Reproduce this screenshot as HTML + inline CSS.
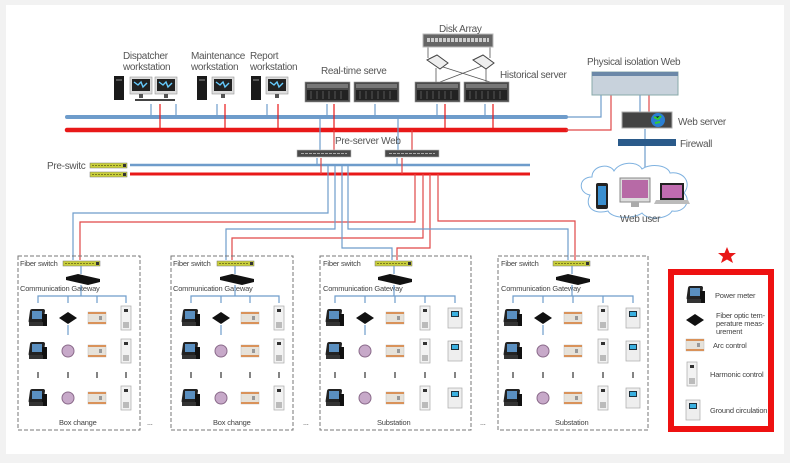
<!DOCTYPE html>
<html><head><meta charset="utf-8"><style>
html,body{margin:0;padding:0;background:#f2f2f2;}
svg{display:block;font-family:"Liberation Sans",sans-serif;}
</style></head><body>
<svg width="790" height="463" viewBox="0 0 790 463" xmlns="http://www.w3.org/2000/svg">
<defs>
<g id="pm"><rect x="-9" y="-9" width="15" height="14" rx="2" fill="#222" transform="skewX(-8)"/><rect x="-6" y="-7" width="10" height="8" fill="#5a8fc0"/><rect x="4" y="-4" width="5" height="12" fill="#111"/><rect x="-9" y="4" width="14" height="4" fill="#333"/></g>
<g id="fo"><polygon points="-9,0 0,-6 9,0 0,6" fill="#111"/></g>
<g id="arc"><rect x="-9" y="-6" width="18" height="12" fill="#e6e2da" stroke="#bbb" stroke-width="0.5"/><rect x="-9" y="-6" width="18" height="2" fill="#d9925a"/><rect x="-9" y="4" width="18" height="2" fill="#d9925a"/><rect x="2" y="-2" width="3" height="4" fill="#999"/></g>
<g id="hc"><rect x="-5" y="-12" width="10" height="24" fill="#f2f2f2" stroke="#aaa" stroke-width="0.7"/><rect x="-2" y="-9" width="4" height="3" fill="#333"/><rect x="-3" y="4" width="6" height="6" fill="#bbb"/></g>
<g id="gc"><rect x="-7" y="-10" width="14" height="20" fill="#eee" stroke="#aaa" stroke-width="0.7"/><rect x="-4" y="-7" width="8" height="6" fill="#1c2f3a"/><rect x="-3" y="-6" width="6" height="4" fill="#3ab0e0"/></g>
<g id="mon"><rect x="0" y="0" width="22" height="17" fill="#ddd" stroke="#999" stroke-width="0.6"/><rect x="2" y="2" width="18" height="12" fill="#222"/><path d="M4 5 l4 3 l3 -3 l2 5 l4 -4" stroke="#6cf" fill="none" stroke-width="1.4"/><rect x="9" y="17" width="4" height="4" fill="#555"/></g>
<g id="tower"><rect x="0" y="0" width="10" height="24" fill="#1a1a1a"/><rect x="2" y="3" width="6" height="2" fill="#555"/></g>
<g id="srv"><rect x="0" y="0" width="45" height="20" fill="#4a4a4a" stroke="#999" stroke-width="0.6"/><rect x="2" y="2" width="41" height="4" fill="#777"/><rect x="2" y="8" width="41" height="10" fill="#222"/><path d="M6 9v8M12 9v8M18 9v8M24 9v8M30 9v8M36 9v8" stroke="#555"/></g>
<g id="rack"><rect x="0" y="0" width="54" height="7" fill="#4a4a4a" stroke="#bbb" stroke-width="0.6"/><path d="M4 3.5h46" stroke="#aaa" stroke-dasharray="3 1"/></g>
<g id="sw"><rect x="0" y="0" width="37" height="5" fill="#c9cf3a" stroke="#777" stroke-width="0.5"/><path d="M2 2.5h30" stroke="#7a7a20" stroke-dasharray="2 1"/><rect x="33" y="1" width="3" height="3" fill="#333"/></g>
<g id="gw"><polygon points="0,3 12,0 34,5 34,8 22,11 0,6" fill="#111"/></g>
</defs>
<rect x="6" y="5" width="778" height="449" fill="#fff"/>

<line x1="67" y1="117" x2="566" y2="117" stroke="#6e9ccb" stroke-width="4" stroke-linecap="round"/>
<line x1="67" y1="130" x2="566" y2="130" stroke="#e81818" stroke-width="4.5" stroke-linecap="round"/>
<line x1="130" y1="165" x2="530" y2="165" stroke="#6e9ccb" stroke-width="2.5"/>
<line x1="130" y1="174" x2="530" y2="174" stroke="#e81818" stroke-width="3"/>

<g stroke-width="1.2" fill="none">
<path d="M151 104V117M176 104V117M217 104V117M267 104V117M327 104V117M375 104V117M437 104V117M485 104V117" stroke="#6e9ccb"/>
<path d="M160 104V130M225 104V130M278 104V130M334 104V130M445 104V130M493 104V130" stroke="#e81818"/>
<path d="M320 117V150M398 117V150" stroke="#6e9ccb"/>
<path d="M334 130V150M412 130V150" stroke="#e04848"/>
<path d="M317 158V165M397 158V165" stroke="#6e9ccb"/>
<path d="M321 158V174M402 158V174" stroke="#e04848"/>
<path d="M328 165V213H73V260" stroke="#6e9ccb"/>
<path d="M415 174V222H80V260" stroke="#e04848"/>
<path d="M335 165V229H226V260" stroke="#6e9ccb"/>
<path d="M423 174V238H232V260" stroke="#e04848"/>
<path d="M342 165V248H392V260" stroke="#6e9ccb"/>
<path d="M430 174V248H397V260" stroke="#e04848"/>
<path d="M348 165V229H568V260" stroke="#6e9ccb"/>
<path d="M438 174V221H575V260" stroke="#e04848"/>
<path d="M566 117H601V95" stroke="#6e9ccb"/>
<path d="M566 130H611V95" stroke="#e04848"/>
<path d="M640 95V112" stroke="#6e9ccb"/><path d="M649 95V112" stroke="#e04848"/>
<path d="M645 129V139M645 146V170" stroke="#6e9ccb"/>
<path d="M428 47V58M490 47V58M436 68V82M486 68V82M440 66L490 82M482 66L440 82" stroke="#555" stroke-width="0.8"/>
</g>

<use href="#tower" x="114" y="76"/><use href="#mon" x="130" y="77"/><use href="#mon" x="155" y="77"/>
<rect x="135" y="99" width="40" height="2" fill="#444"/>
<use href="#tower" x="197" y="76"/><use href="#mon" x="212" y="77"/>
<use href="#tower" x="251" y="76"/><use href="#mon" x="266" y="77"/>
<use href="#srv" x="305" y="82"/><use href="#srv" x="354" y="82"/>
<use href="#srv" x="415" y="82"/><use href="#srv" x="464" y="82"/>
<rect x="423" y="34" width="70" height="13" fill="#666" stroke="#bbb"/><path d="M427 40h62" stroke="#ccc" stroke-width="4" stroke-dasharray="3 1"/>
<polygon points="427,60 437,55 448,63 440,69" fill="#eee" stroke="#444"/><polygon points="473,60 483,55 494,63 486,69" fill="#eee" stroke="#444"/>
<use href="#rack" x="297" y="150"/><use href="#rack" x="385" y="150"/>
<use href="#sw" x="90" y="163"/><use href="#sw" x="90" y="172"/>
<rect x="592" y="72" width="86" height="23" fill="#c8d2dc" stroke="#8aa"/><rect x="592" y="72" width="86" height="4" fill="#6b88a8"/>
<rect x="622" y="112" width="50" height="16" fill="#444" stroke="#aaa"/><circle cx="658" cy="120" r="7" fill="#2a7fd4"/><path d="M654 117l4 2 3-3M655 123l5-1" stroke="#3c3" stroke-width="2"/>
<rect x="618" y="139" width="58" height="7" fill="#2a5a8a"/>
<path d="M590 195c-12-2-12-18 2-18c0-12 18-14 22-6c6-10 24-10 28-2c8-6 26-4 28 4c14-2 22 10 14 20c8 8 0 20-12 18c-4 8-24 10-30 2c-8 6-30 6-34-2c-14 4-24-4-18-16z" fill="#fff" stroke="#7fb2e0" stroke-width="1"/>
<rect x="596" y="183" width="12" height="26" rx="2" fill="#222"/><rect x="598" y="186" width="8" height="19" fill="#3a8fd0"/>
<rect x="620" y="178" width="30" height="24" fill="#ddd" stroke="#888"/><rect x="622" y="180" width="26" height="18" fill="#b76aa6"/><rect x="631" y="202" width="8" height="5" fill="#aaa"/>
<rect x="660" y="183" width="24" height="17" fill="#222"/><rect x="662" y="185" width="20" height="13" fill="#c06cb0"/><polygon points="656,200 688,200 690,204 654,204" fill="#bbb"/>

<g font-size="10" fill="#555" letter-spacing="-0.3">
<text x="123" y="59">Dispatcher</text><text x="123" y="70">workstation</text>
<text x="191" y="59">Maintenance</text><text x="191" y="70">workstation</text>
<text x="250" y="59">Report</text><text x="250" y="70">workstation</text>
<text x="321" y="74">Real-time serve</text>
<text x="439" y="32">Disk Array</text>
<text x="500" y="78">Historical server</text>
<text x="587" y="65">Physical isolation Web</text>
<text x="678" y="125">Web server</text>
<text x="680" y="147">Firewall</text>
<text x="335" y="144">Pre-server Web</text>
<text x="47" y="169">Pre-switc</text>
<text x="620" y="222">Web user</text>
</g>

<g stroke="#777" stroke-width="1" stroke-dasharray="4 2" fill="none">
<rect x="18" y="256" width="122" height="174"/><rect x="171" y="256" width="122" height="174"/>
<rect x="320" y="256" width="151" height="174"/><rect x="498" y="256" width="150" height="174"/>
</g>
<g font-size="7.5" fill="#444" letter-spacing="-0.2">
<text x="20" y="266">Fiber switch</text><text x="173" y="266">Fiber switch</text><text x="323" y="266">Fiber switch</text><text x="501" y="266">Fiber switch</text>
<text x="20" y="291">Communication Gateway</text><text x="173" y="291">Communication Gateway</text><text x="323" y="291">Communication Gateway</text><text x="501" y="291">Communication Gateway</text>
<text x="59" y="425">Box change</text><text x="213" y="425">Box change</text><text x="377" y="425">Substation</text><text x="555" y="425">Substation</text>
<text x="147" y="425">...</text><text x="303" y="425">...</text><text x="480" y="425">...</text>
</g>
<use href="#sw" x="63" y="261"/><use href="#sw" x="217" y="261"/><use href="#sw" x="375" y="261"/><use href="#sw" x="553" y="261"/>
<use href="#gw" x="66" y="274"/><use href="#gw" x="220" y="274"/><use href="#gw" x="378" y="274"/><use href="#gw" x="556" y="274"/>
<g stroke="#6e9ccb" stroke-width="1.2" fill="none">
<path d="M81 266v8M81 285v11M38 303v-7h88v7M68 296v7M97 296v7M68 325v10"/>
<path d="M235 266v8M235 285v11M191 303v-7h88v7M221 296v7M250 296v7M221 325v10"/>
<path d="M394 266v8M394 285v11M335 303v-7h120v7M365 296v7M395 296v7M425 296v7M365 325v10"/>
<path d="M572 266v8M572 285v11M513 303v-7h120v7M543 296v7M573 296v7M603 296v7M543 325v10"/>
</g>
<g>
<use href="#pm" x="38" y="318"/><use href="#fo" x="68" y="318"/><use href="#arc" x="97" y="318"/><use href="#hc" x="126" y="318"/>
<use href="#pm" x="38" y="351"/><circle cx="68" cy="351" r="6" fill="#c7a9c9" stroke="#8a6a8a"/><use href="#arc" x="97" y="351"/><use href="#hc" x="126" y="351"/>
<use href="#pm" x="38" y="398"/><circle cx="68" cy="398" r="6" fill="#c7a9c9" stroke="#8a6a8a"/><use href="#arc" x="97" y="398"/><use href="#hc" x="126" y="398"/>
<use href="#pm" x="191" y="318"/><use href="#fo" x="221" y="318"/><use href="#arc" x="250" y="318"/><use href="#hc" x="279" y="318"/>
<use href="#pm" x="191" y="351"/><circle cx="221" cy="351" r="6" fill="#c7a9c9" stroke="#8a6a8a"/><use href="#arc" x="250" y="351"/><use href="#hc" x="279" y="351"/>
<use href="#pm" x="191" y="398"/><circle cx="221" cy="398" r="6" fill="#c7a9c9" stroke="#8a6a8a"/><use href="#arc" x="250" y="398"/><use href="#hc" x="279" y="398"/>
<use href="#pm" x="335" y="318"/><use href="#fo" x="365" y="318"/><use href="#arc" x="395" y="318"/><use href="#hc" x="425" y="318"/><use href="#gc" x="455" y="318"/>
<use href="#pm" x="335" y="351"/><circle cx="365" cy="351" r="6" fill="#c7a9c9" stroke="#8a6a8a"/><use href="#arc" x="395" y="351"/><use href="#hc" x="425" y="351"/><use href="#gc" x="455" y="351"/>
<use href="#pm" x="335" y="398"/><circle cx="365" cy="398" r="6" fill="#c7a9c9" stroke="#8a6a8a"/><use href="#arc" x="395" y="398"/><use href="#hc" x="425" y="398"/><use href="#gc" x="455" y="398"/>
<use href="#pm" x="513" y="318"/><use href="#fo" x="543" y="318"/><use href="#arc" x="573" y="318"/><use href="#hc" x="603" y="318"/><use href="#gc" x="633" y="318"/>
<use href="#pm" x="513" y="351"/><circle cx="543" cy="351" r="6" fill="#c7a9c9" stroke="#8a6a8a"/><use href="#arc" x="573" y="351"/><use href="#hc" x="603" y="351"/><use href="#gc" x="633" y="351"/>
<use href="#pm" x="513" y="398"/><circle cx="543" cy="398" r="6" fill="#c7a9c9" stroke="#8a6a8a"/><use href="#arc" x="573" y="398"/><use href="#hc" x="603" y="398"/><use href="#gc" x="633" y="398"/>
</g>
<g stroke="#333" stroke-width="1.2">
<path d="M38 372v6M68 372v6M97 372v6M126 372v6M191 372v6M221 372v6M250 372v6M279 372v6M335 372v6M365 372v6M395 372v6M425 372v6M455 372v6M513 372v6M543 372v6M573 372v6M603 372v6M633 372v6"/>
</g>

<polygon points="727,247 729.5,253 736,253 731,257 733,263 727,259.5 721,263 723,257 718,253 724.5,253" fill="#e81818"/>
<rect x="671" y="272" width="100" height="157" fill="#fff" stroke="#ee1111" stroke-width="6"/>
<use href="#pm" x="696" y="295"/><use href="#fo" x="695" y="320"/><use href="#arc" x="695" y="345"/><use href="#hc" x="692" y="374"/><use href="#gc" x="693" y="410"/>
<g font-size="7.5" fill="#444" letter-spacing="-0.2">
<text x="715" y="298">Power meter</text>
<text x="716" y="318">Fiber optic tem-</text><text x="716" y="326">perature meas-</text><text x="716" y="334">urement</text>
<text x="713" y="348">Arc control</text>
<text x="710" y="377">Harmonic control</text>
<text x="710" y="413">Ground circulation</text>
</g>
</svg>
</body></html>
